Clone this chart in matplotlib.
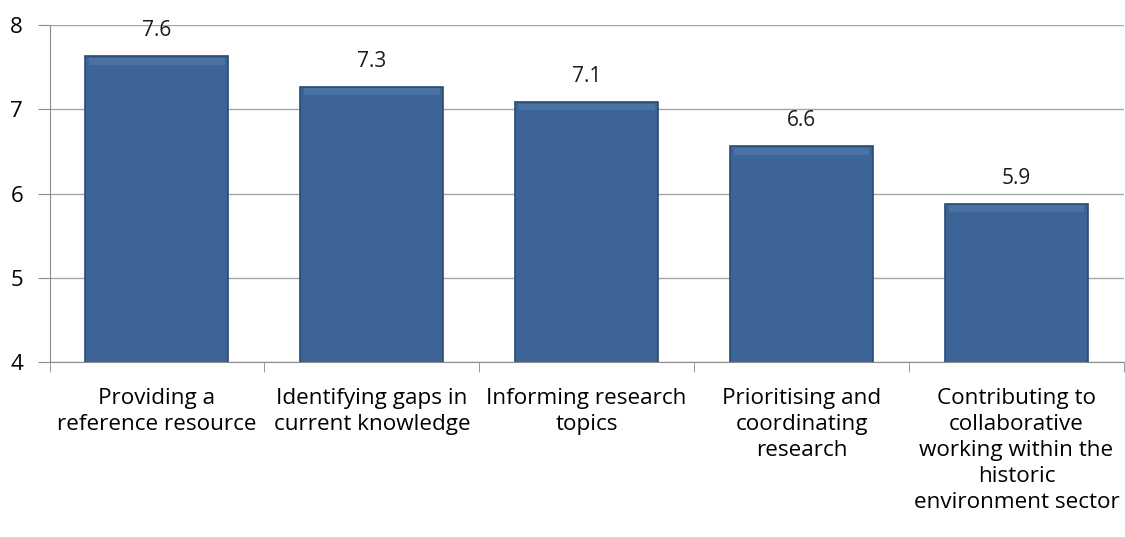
import matplotlib.pyplot as plt
import numpy as np

# ====== DATA ======
categories = [
    "Providing a\nreference resource",
    "Identifying gaps in\ncurrent knowledge",
    "Informing research\ntopics",
    "Prioritising and\ncoordinating\nresearch",
    "Contributing to\ncollaborative\nworking within the\nhistoric\nenvironment sector",
]
scores = [7.63, 7.27, 7.09, 6.56, 5.88]
y_ticks = [4, 5, 6, 7, 8]

plt.rcParams['font.family'] = ['Open Sans', 'DejaVu Sans']

fig = plt.figure(figsize=(11.25, 5.37), dpi=100)
ax = fig.add_axes([0.044, 0.326, 0.955, 0.627])

x = np.arange(len(categories))
bars = ax.bar(x, scores, width=0.665, bottom=0, color="#3C6496",
              edgecolor="#2A4A75", linewidth=1.2, zorder=3)

# soft highlight band near top of each bar (bevel look)
for b in bars:
    ax.bar(b.get_x() + b.get_width() / 2, 0.08, width=b.get_width() * 0.95,
           bottom=b.get_height() - 0.1, color="#5D84B5", alpha=0.45,
           linewidth=0, zorder=4)

for xi, v in zip(x, scores):
    ax.text(xi, v + 0.18, f"{v:.1f}", ha="center", va="bottom",
            fontsize=15, color="#1a1a1a", zorder=5)

ax.set_ylim(4, 8)
ax.set_xlim(-0.5, len(categories) - 0.5)
ax.set_yticks(y_ticks)
ax.set_yticklabels([str(t) for t in y_ticks], fontsize=16)
ax.yaxis.grid(True, color="#A6A6A6", linewidth=1, zorder=0)
ax.set_axisbelow(True)

ax.set_xticks(x)
ax.set_xticklabels(categories, fontsize=16.2, linespacing=1.3)
ax.set_xticks(np.arange(-0.5, len(categories)), minor=True)
ax.tick_params(axis="x", which="major", length=0, pad=19)
ax.tick_params(axis="x", which="minor", length=7, color="#8C8C8C", direction="out")
ax.tick_params(axis="y", length=9, color="#8C8C8C", pad=10)

for s in ["top", "right"]:
    ax.spines[s].set_visible(False)
ax.spines["left"].set_color("#8C8C8C")
ax.spines["bottom"].set_color("#8C8C8C")

plt.savefig("out.png", dpi=100)
